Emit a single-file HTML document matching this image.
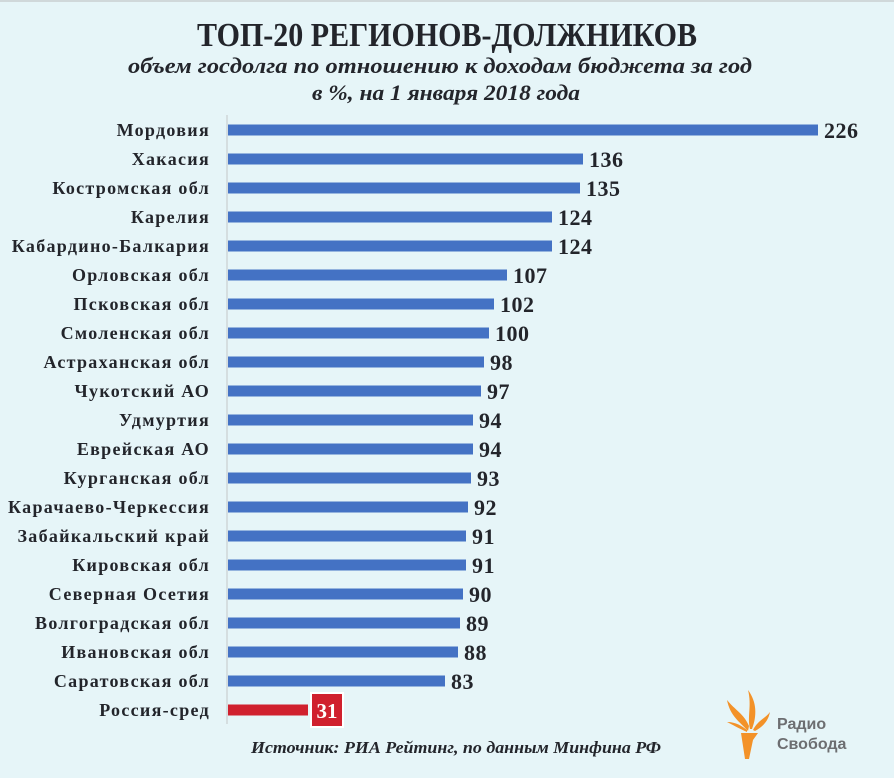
<!DOCTYPE html>
<html><head><meta charset="utf-8"><style>
html,body{margin:0;padding:0;background:#e6f5f8;}
svg{display:block;}
</style></head><body>
<svg width="894" height="778" xmlns="http://www.w3.org/2000/svg" font-family="Liberation Serif, serif">
<rect x="0" y="0" width="894" height="778" fill="#e6f5f8"/>
<rect x="0" y="0" width="894" height="2" fill="#d0d8da"/>
<text x="447" y="46" text-anchor="middle" font-size="34" font-weight="bold" fill="#23252b" textLength="500" lengthAdjust="spacingAndGlyphs">ТОП-20 РЕГИОНОВ-ДОЛЖНИКОВ</text>
<text x="440" y="73" text-anchor="middle" font-size="22" font-weight="bold" font-style="italic" fill="#23252b" textLength="624" lengthAdjust="spacingAndGlyphs">объем госдолга по отношению к доходам бюджета за год</text>
<text x="446" y="100" text-anchor="middle" font-size="22" font-weight="bold" font-style="italic" fill="#23252b" textLength="268" lengthAdjust="spacingAndGlyphs">в %, на 1 января 2018 года</text>
<line x1="227" y1="115" x2="227" y2="724" stroke="#cfd6d8" stroke-width="1.5"/>
<g font-size="18" font-weight="bold" fill="#23252b" text-anchor="end" letter-spacing="1.3">
<text x="210" y="136">Мордовия</text>
<text x="210" y="165">Хакасия</text>
<text x="210" y="194">Костромская обл</text>
<text x="210" y="223">Карелия</text>
<text x="210" y="252">Кабардино-Балкария</text>
<text x="210" y="281">Орловская обл</text>
<text x="210" y="310">Псковская обл</text>
<text x="210" y="339">Смоленская обл</text>
<text x="210" y="368">Астраханская обл</text>
<text x="210" y="397">Чукотский АО</text>
<text x="210" y="426">Удмуртия</text>
<text x="210" y="455">Еврейская АО</text>
<text x="210" y="484">Курганская обл</text>
<text x="210" y="513">Карачаево-Черкессия</text>
<text x="210" y="542">Забайкальский край</text>
<text x="210" y="571">Кировская обл</text>
<text x="210" y="600">Северная Осетия</text>
<text x="210" y="629">Волгоградская обл</text>
<text x="210" y="658">Ивановская обл</text>
<text x="210" y="687">Саратовская обл</text>
<text x="210" y="716">Россия-сред</text>
</g>
<g fill="#4472c4">
<rect x="228" y="124.5" width="590" height="11"/>
<rect x="228" y="153.5" width="355" height="11"/>
<rect x="228" y="182.5" width="352" height="11"/>
<rect x="228" y="211.5" width="324" height="11"/>
<rect x="228" y="240.5" width="324" height="11"/>
<rect x="228" y="269.5" width="279" height="11"/>
<rect x="228" y="298.5" width="266" height="11"/>
<rect x="228" y="327.5" width="261" height="11"/>
<rect x="228" y="356.5" width="256" height="11"/>
<rect x="228" y="385.5" width="253" height="11"/>
<rect x="228" y="414.5" width="245" height="11"/>
<rect x="228" y="443.5" width="245" height="11"/>
<rect x="228" y="472.5" width="243" height="11"/>
<rect x="228" y="501.5" width="240" height="11"/>
<rect x="228" y="530.5" width="238" height="11"/>
<rect x="228" y="559.5" width="238" height="11"/>
<rect x="228" y="588.5" width="235" height="11"/>
<rect x="228" y="617.5" width="232" height="11"/>
<rect x="228" y="646.5" width="230" height="11"/>
<rect x="228" y="675.5" width="217" height="11"/>
</g>
<rect x="228" y="704.5" width="80" height="11" fill="#d0202e"/>
<g font-size="22" font-weight="bold" fill="#23252b" letter-spacing="0.5">
<text x="824" y="138">226</text>
<text x="589" y="167">136</text>
<text x="586" y="196">135</text>
<text x="558" y="225">124</text>
<text x="558" y="254">124</text>
<text x="513" y="283">107</text>
<text x="500" y="312">102</text>
<text x="495" y="341">100</text>
<text x="490" y="370">98</text>
<text x="487" y="399">97</text>
<text x="479" y="428">94</text>
<text x="479" y="457">94</text>
<text x="477" y="486">93</text>
<text x="474" y="515">92</text>
<text x="472" y="544">91</text>
<text x="472" y="573">91</text>
<text x="469" y="602">90</text>
<text x="466" y="631">89</text>
<text x="464" y="660">88</text>
<text x="451" y="689">83</text>
</g>
<rect x="311" y="693" width="32" height="34" fill="#d0202e" stroke="#fff" stroke-width="2"/>
<text x="327" y="718" text-anchor="middle" font-size="21" font-weight="bold" fill="#fff">31</text>
<text x="456" y="753" text-anchor="middle" font-size="17" font-weight="bold" font-style="italic" fill="#23252b" textLength="410" lengthAdjust="spacingAndGlyphs">Источник: РИА Рейтинг,  по данным Минфина  РФ</text>
<g fill="#f39229">
<path d="M741 733 L758 733 L753 740 L749 759 L745 759 Z"/>
<path d="M748 731 C740 722 730 716 727 700 C735 710 744 714 749 726 Z"/>
<path d="M750 729 C747 716 752 706 748 690 C757 702 757 716 752 729 Z"/>
<path d="M753 730 C758 720 766 718 770 712 C768 722 762 727 755 731 Z"/>
<path d="M747 732 C738 728 733 725 727 722 C736 722 742 726 747 730 Z"/>
</g>
<text x="777" y="729" font-family="Liberation Sans, sans-serif" font-size="16" font-weight="bold" fill="#6d6e71">Радио</text>
<text x="777" y="749" font-family="Liberation Sans, sans-serif" font-size="16" font-weight="bold" fill="#6d6e71">Свобода</text>
</svg>
</body></html>
